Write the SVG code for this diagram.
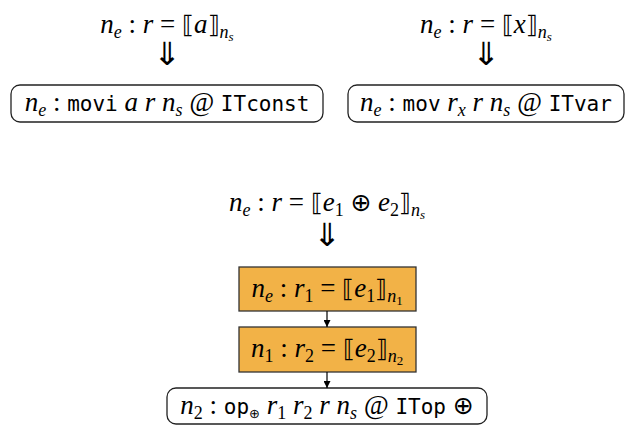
<svg xmlns="http://www.w3.org/2000/svg" width="626" height="425" viewBox="0 0 626 425">
<style>
.m{font-family:"Liberation Serif","DejaVu Serif",serif;font-style:italic;font-size:27px;fill:#000}
.u{font-style:normal}
.bk{font-style:normal;font-family:"DejaVu Serif",serif;font-size:24px}
.op{font-style:normal;font-family:"DejaVu Sans",sans-serif;font-size:25px}
.ops{font-style:normal;font-family:"DejaVu Sans",sans-serif;font-size:13px}
.tt{font-family:"DejaVu Sans Mono",monospace;font-style:normal;font-size:21px}
.s{font-size:18px}
.ss{font-size:13px}
.arr{font-family:"DejaVu Sans",sans-serif;font-size:32px;fill:#000}
.box{fill:#fff;stroke:#222;stroke-width:1.3}
.ob{fill:#F2B247;stroke:#333;stroke-width:1.3}
.c{stroke:#000;stroke-width:1.2;fill:none}
</style>
<defs>
<marker id="ah" viewBox="0 0 10 10" refX="10" refY="5" markerWidth="7" markerHeight="7" orient="auto" markerUnits="userSpaceOnUse">
<path d="M0,0L10,5L0,10z" fill="#000"/>
</marker>
</defs>

<g id="rule-const">
<text class="m" x="167" y="33" text-anchor="middle">n<tspan class="s" dy="5">e</tspan><tspan dy="-5" class="u"> : </tspan>r<tspan class="u"> = </tspan><tspan class="bk">⟦</tspan>a<tspan class="bk">⟧</tspan><tspan class="s" dy="5">n</tspan><tspan class="ss" dy="3">s</tspan></text>
<text class="arr" transform="translate(167,65) scale(1.05,1)" text-anchor="middle">⇓</text>
</g>
<g id="node-movi">
<rect class="box" x="11" y="85" width="312" height="37" rx="9"/>
<text class="m" x="167" y="111" text-anchor="middle">n<tspan class="s" dy="5">e</tspan><tspan dy="-5" class="u"> : </tspan><tspan class="tt">movi</tspan> a r n<tspan class="s" dy="5">s</tspan><tspan dy="-5"> @ </tspan><tspan class="tt">ITconst</tspan></text>
</g>

<g id="rule-var">
<text class="m" x="486" y="33" text-anchor="middle">n<tspan class="s" dy="5">e</tspan><tspan dy="-5" class="u"> : </tspan>r<tspan class="u"> = </tspan><tspan class="bk">⟦</tspan>x<tspan class="bk">⟧</tspan><tspan class="s" dy="5">n</tspan><tspan class="ss" dy="3">s</tspan></text>
<text class="arr" transform="translate(486,65) scale(1.05,1)" text-anchor="middle">⇓</text>
</g>
<g id="node-mov">
<rect class="box" x="348" y="85" width="276" height="37" rx="9"/>
<text class="m" x="486" y="111" text-anchor="middle">n<tspan class="s" dy="5">e</tspan><tspan dy="-5" class="u"> : </tspan><tspan class="tt">mov</tspan> r<tspan class="s" dy="5">x</tspan><tspan dy="-5"> r n</tspan><tspan class="s" dy="5">s</tspan><tspan dy="-5"> @ </tspan><tspan class="tt">ITvar</tspan></text>
</g>

<g id="rule-op">
<text class="m" x="327" y="211" text-anchor="middle">n<tspan class="s" dy="5">e</tspan><tspan dy="-5" class="u"> : </tspan>r<tspan class="u"> = </tspan><tspan class="bk">⟦</tspan>e<tspan class="s u" dy="5">1</tspan><tspan dy="-5" class="u"> </tspan><tspan class="op">⊕</tspan><tspan class="u"> </tspan>e<tspan class="s u" dy="5">2</tspan><tspan dy="-5" class="bk">⟧</tspan><tspan class="s" dy="5">n</tspan><tspan class="ss" dy="3">s</tspan></text>
<text class="arr" transform="translate(327,246) scale(1.05,1)" text-anchor="middle">⇓</text>
</g>
<g id="node-e1">
<rect class="ob" x="239" y="267" width="177" height="44"/>
<text class="m" x="327" y="297" text-anchor="middle">n<tspan class="s" dy="5">e</tspan><tspan dy="-5" class="u"> : </tspan>r<tspan class="s u" dy="5">1</tspan><tspan dy="-5" class="u"> = </tspan><tspan class="bk">⟦</tspan>e<tspan class="s u" dy="5">1</tspan><tspan dy="-5" class="bk">⟧</tspan><tspan class="s" dy="5">n</tspan><tspan class="ss u" dy="3">1</tspan></text>
</g>
<g id="node-e2">
<rect class="ob" x="239" y="327" width="177" height="45"/>
<text class="m" x="327" y="357" text-anchor="middle">n<tspan class="s u" dy="5">1</tspan><tspan dy="-5" class="u"> : </tspan>r<tspan class="s u" dy="5">2</tspan><tspan dy="-5" class="u"> = </tspan><tspan class="bk">⟦</tspan>e<tspan class="s u" dy="5">2</tspan><tspan dy="-5" class="bk">⟧</tspan><tspan class="s" dy="5">n</tspan><tspan class="ss u" dy="3">2</tspan></text>
</g>
<g id="node-op">
<rect class="box" x="167" y="388" width="320" height="36" rx="9"/>
<text class="m" x="327" y="414" text-anchor="middle">n<tspan class="s u" dy="5">2</tspan><tspan dy="-5" class="u"> : </tspan><tspan class="tt">op</tspan><tspan class="ops" dy="4">⊕</tspan><tspan dy="-4"> r</tspan><tspan class="s u" dy="5">1</tspan><tspan dy="-5"> r</tspan><tspan class="s u" dy="5">2</tspan><tspan dy="-5"> r n</tspan><tspan class="s" dy="5">s</tspan><tspan dy="-5"> @ </tspan><tspan class="tt">ITop</tspan><tspan class="u"> </tspan><tspan class="op">⊕</tspan></text>
</g>

<g id="connectors">
<line class="c" x1="327" y1="311" x2="327" y2="327" marker-end="url(#ah)"/>
<line class="c" x1="327" y1="372" x2="327" y2="388" marker-end="url(#ah)"/>
</g>
</svg>
